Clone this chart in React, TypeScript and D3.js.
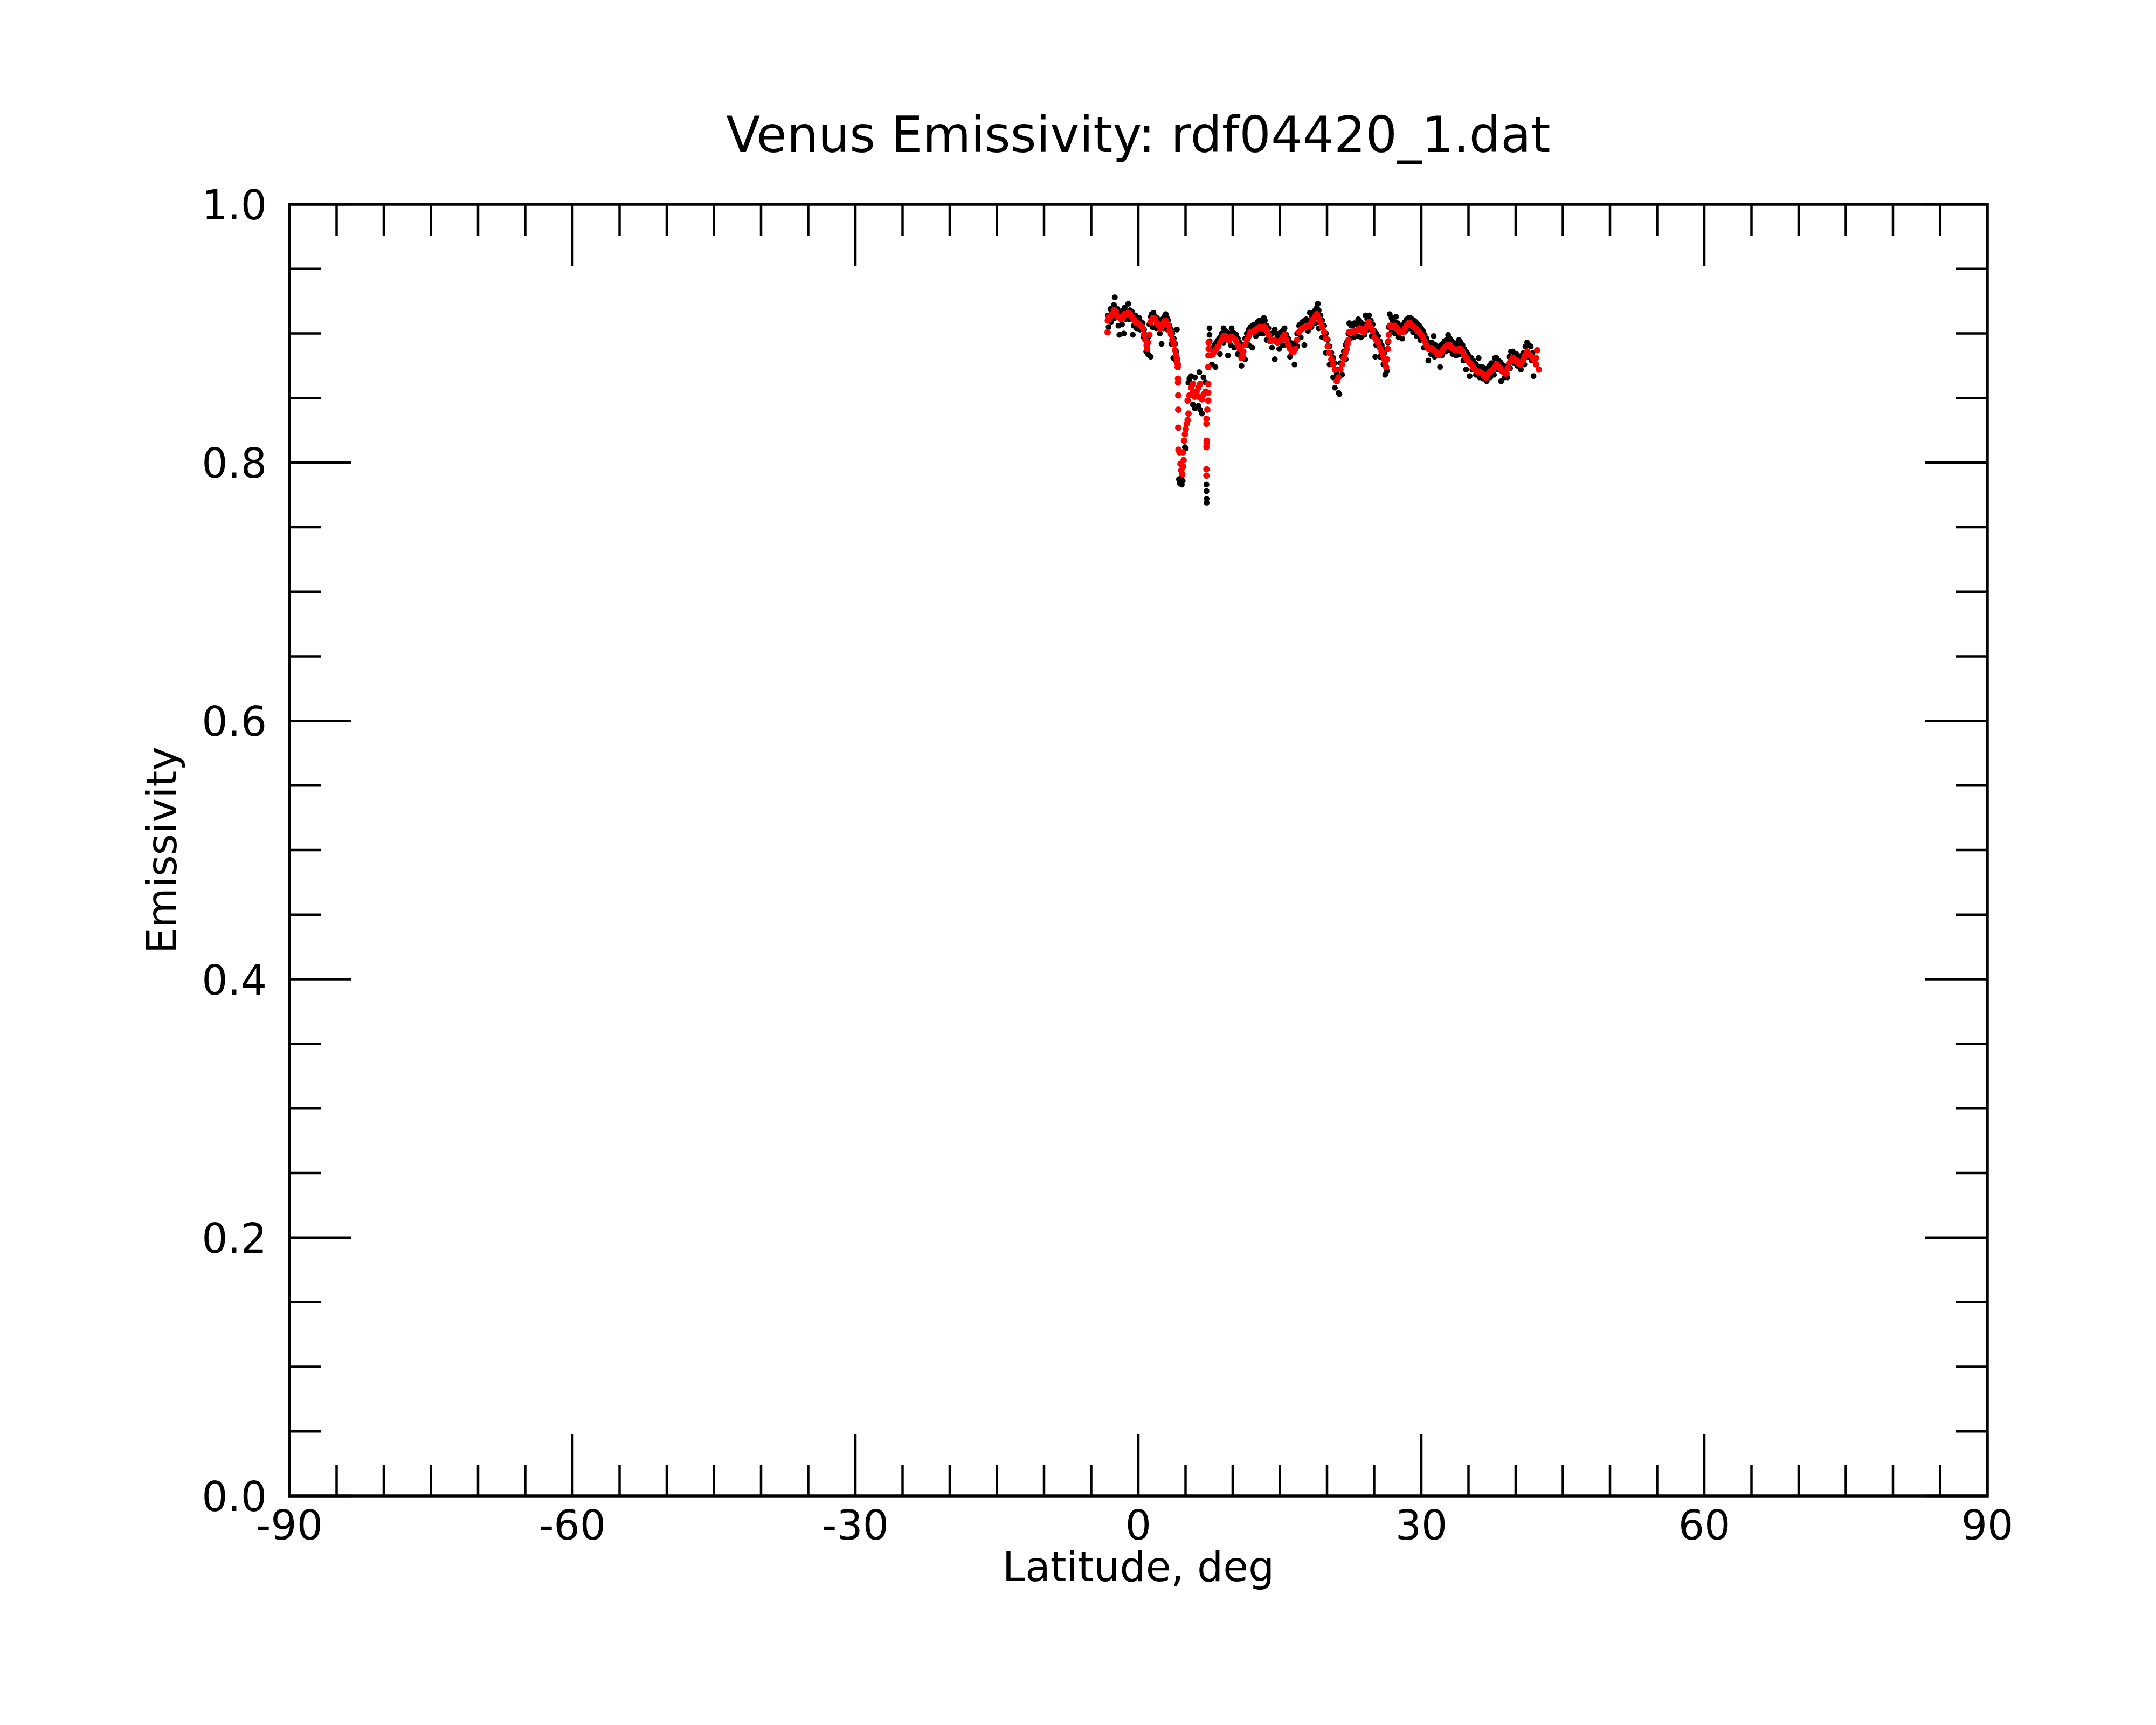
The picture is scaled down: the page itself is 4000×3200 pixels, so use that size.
import { FC } from 'react'
import * as d3 from 'd3'

// latitude (deg), emissivity
const redSouth: [number, number][] = [
  [-3.26, 0.901], [-3.24, 0.910], [-3.12, 0.913], [-2.97, 0.913], [-2.78, 0.915], [-2.59, 0.918],
  [-2.40, 0.917], [-2.21, 0.913], [-2.02, 0.913], [-1.83, 0.911], [-1.64, 0.912], [-1.45, 0.915],
  [-1.26, 0.915], [-1.07, 0.916], [-0.88, 0.915], [-0.69, 0.913], [-0.50, 0.911], [-0.31, 0.909],
  [-0.12, 0.908], [0.08, 0.907], [0.27, 0.906], [0.46, 0.904], [0.60, 0.899], [0.74, 0.895],
  [0.88, 0.891], [0.93, 0.888], [1.03, 0.893], [1.17, 0.899], [1.31, 0.909], [1.45, 0.911],
  [1.60, 0.912], [1.79, 0.911], [1.98, 0.908], [2.17, 0.906], [2.36, 0.904], [2.55, 0.907],
  [2.74, 0.909], [2.90, 0.910], [3.03, 0.908], [3.17, 0.906], [3.31, 0.902], [3.46, 0.899],
  [3.60, 0.895], [3.73, 0.892], [3.89, 0.887], [3.98, 0.883], [4.08, 0.880], [4.13, 0.877],
  [4.17, 0.874]
]

const redDip: [number, number][] = [
  [4.19, 0.876], [4.21, 0.865], [4.21, 0.862], [4.23, 0.852], [4.23, 0.841], [4.23, 0.827],
  [4.25, 0.810], [4.36, 0.808], [4.46, 0.799], [4.55, 0.794], [4.65, 0.791], [4.74, 0.797],
  [4.80, 0.802], [4.74, 0.808], [4.84, 0.817], [4.93, 0.822], [5.03, 0.826], [5.12, 0.830],
  [5.22, 0.833], [5.31, 0.838], [5.22, 0.848], [5.41, 0.852], [5.60, 0.858], [5.79, 0.861],
  [5.79, 0.855], [5.98, 0.851], [6.17, 0.855], [6.36, 0.851], [6.36, 0.858], [6.55, 0.861],
  [6.74, 0.849], [6.93, 0.853], [7.12, 0.855], [7.41, 0.861], [7.41, 0.854], [7.41, 0.848],
  [7.31, 0.841], [7.22, 0.834], [7.22, 0.830], [7.24, 0.817], [7.24, 0.815], [7.22, 0.812],
  [7.22, 0.795], [7.22, 0.790], [7.41, 0.874], [7.43, 0.883], [7.45, 0.888], [7.45, 0.893]
]

const redNorth: [number, number][] = [
  [7.70, 0.883], [7.89, 0.884], [8.08, 0.886], [8.27, 0.888], [8.46, 0.890], [8.65, 0.893],
  [8.84, 0.895], [9.03, 0.898], [9.22, 0.898], [9.41, 0.897], [9.60, 0.895], [9.79, 0.897],
  [9.98, 0.897], [10.17, 0.896], [10.36, 0.894], [10.55, 0.891], [10.74, 0.888], [10.93, 0.881],
  [11.03, 0.883], [11.12, 0.886], [11.31, 0.891], [11.50, 0.895], [11.70, 0.898], [11.89, 0.901],
  [12.08, 0.901], [12.27, 0.902], [12.46, 0.903], [12.65, 0.904], [12.84, 0.905], [13.03, 0.904],
  [13.22, 0.905], [13.41, 0.905], [13.60, 0.902], [13.79, 0.899], [13.98, 0.894], [14.17, 0.895],
  [14.36, 0.895], [14.55, 0.894], [14.74, 0.893], [14.93, 0.894], [15.12, 0.895], [15.31, 0.897],
  [15.50, 0.899], [15.70, 0.895], [15.89, 0.891], [16.08, 0.888], [16.27, 0.886], [16.46, 0.886],
  [16.65, 0.888], [16.84, 0.895], [17.03, 0.901], [17.22, 0.903], [17.41, 0.904], [17.60, 0.905],
  [17.79, 0.905], [17.98, 0.906], [18.17, 0.906], [18.36, 0.909], [18.55, 0.911], [18.74, 0.913],
  [18.93, 0.915], [19.12, 0.912], [19.31, 0.909], [19.50, 0.905], [19.70, 0.901], [19.89, 0.896],
  [20.08, 0.890], [20.27, 0.885], [20.46, 0.880], [20.65, 0.876], [20.84, 0.872], [21.03, 0.863],
  [21.22, 0.866], [21.41, 0.872], [21.60, 0.876], [21.79, 0.881], [21.94, 0.885], [22.08, 0.888],
  [22.18, 0.892], [22.27, 0.895], [22.36, 0.901], [22.55, 0.901], [22.74, 0.901], [22.93, 0.902],
  [23.12, 0.902], [23.31, 0.903], [23.49, 0.904], [23.70, 0.902], [23.89, 0.901], [24.08, 0.904],
  [24.27, 0.906], [24.46, 0.909], [24.65, 0.905], [24.84, 0.902], [25.03, 0.897], [25.22, 0.895],
  [25.41, 0.893], [25.60, 0.889], [25.79, 0.886], [25.94, 0.883], [26.08, 0.880], [26.18, 0.877],
  [26.27, 0.874], [26.36, 0.880], [26.46, 0.888], [26.50, 0.894], [26.55, 0.899], [26.65, 0.906],
  [26.84, 0.906], [26.93, 0.905], [27.12, 0.906], [27.31, 0.905], [27.50, 0.903], [27.70, 0.901],
  [27.89, 0.901], [28.08, 0.901], [28.27, 0.904], [28.46, 0.906], [28.65, 0.908], [28.84, 0.908],
  [29.03, 0.906], [29.22, 0.905], [29.41, 0.904], [29.60, 0.902], [29.79, 0.901], [29.98, 0.899],
  [30.17, 0.897], [30.36, 0.894], [30.55, 0.891], [30.74, 0.888], [30.93, 0.888], [31.12, 0.888],
  [31.31, 0.887], [31.50, 0.886], [31.70, 0.884], [31.89, 0.883], [32.08, 0.885], [32.27, 0.887],
  [32.46, 0.889], [32.65, 0.890], [32.84, 0.891], [33.03, 0.891], [33.22, 0.889], [33.41, 0.888],
  [33.60, 0.887], [33.79, 0.887], [33.98, 0.888], [34.17, 0.888], [34.36, 0.886], [34.55, 0.883],
  [34.74, 0.881], [34.93, 0.879], [35.12, 0.877], [35.31, 0.876], [35.50, 0.874], [35.70, 0.872],
  [35.89, 0.871], [36.08, 0.870], [36.27, 0.870], [36.46, 0.869], [36.65, 0.867], [36.84, 0.866],
  [37.03, 0.868], [37.22, 0.870], [37.41, 0.871], [37.60, 0.872], [37.79, 0.874], [37.98, 0.876],
  [38.17, 0.874], [38.36, 0.873], [38.55, 0.871], [38.74, 0.870], [38.93, 0.869], [39.03, 0.869],
  [39.17, 0.873], [39.31, 0.877], [39.51, 0.879], [39.70, 0.881], [39.89, 0.880], [40.08, 0.879],
  [40.27, 0.877], [40.46, 0.876], [40.65, 0.878], [40.84, 0.880], [41.03, 0.883], [41.22, 0.886],
  [41.41, 0.884], [41.60, 0.883], [41.79, 0.881], [41.98, 0.879], [42.17, 0.881], [42.17, 0.876],
  [42.27, 0.887], [42.46, 0.872]
]

const blackUpper: [number, number][] = [
  [-3.22, 0.914], [-2.97, 0.919], [-2.78, 0.916], [-2.59, 0.922], [-2.50, 0.928], [-2.40, 0.917],
  [-2.21, 0.919], [-2.02, 0.913], [-1.83, 0.916], [-1.64, 0.918], [-1.45, 0.920], [-1.26, 0.917],
  [-1.07, 0.923], [-0.88, 0.918], [-0.69, 0.917], [-0.50, 0.912], [-0.31, 0.914], [-0.12, 0.911],
  [0.08, 0.912], [0.27, 0.909], [0.46, 0.908], [0.60, 0.903], [0.74, 0.899], [0.93, 0.894],
  [1.03, 0.897], [1.17, 0.907], [1.31, 0.913], [1.41, 0.915], [1.60, 0.916], [1.79, 0.913],
  [1.98, 0.912], [2.17, 0.910], [2.36, 0.909], [2.55, 0.911], [2.74, 0.913], [2.90, 0.915],
  [3.03, 0.912], [3.17, 0.910], [3.31, 0.906], [3.46, 0.903], [3.60, 0.900], [3.75, 0.896],
  [3.89, 0.892], [4.08, 0.903], [4.02, 0.886], [4.13, 0.880],
  [7.54, 0.904], [7.54, 0.899], [7.56, 0.894], [7.70, 0.888], [7.89, 0.889], [8.08, 0.891],
  [8.27, 0.893], [8.46, 0.895], [8.65, 0.897], [8.84, 0.900], [9.03, 0.904], [9.22, 0.902],
  [9.41, 0.901], [9.60, 0.900], [9.89, 0.904], [9.98, 0.901], [10.17, 0.900], [10.36, 0.899],
  [10.55, 0.896], [10.74, 0.893], [10.93, 0.887], [11.12, 0.891], [11.31, 0.896], [11.50, 0.900],
  [11.70, 0.903], [11.89, 0.905], [12.08, 0.906], [12.27, 0.907], [12.46, 0.906], [12.65, 0.909],
  [12.84, 0.910], [13.03, 0.908], [13.31, 0.912], [13.41, 0.910], [13.60, 0.906], [13.79, 0.904],
  [13.98, 0.899], [14.17, 0.900], [14.36, 0.901], [14.46, 0.903], [14.74, 0.898], [14.93, 0.900],
  [15.12, 0.901], [15.41, 0.903], [15.50, 0.904], [15.70, 0.899], [15.89, 0.896], [16.08, 0.893],
  [16.27, 0.891], [16.46, 0.892], [16.65, 0.893], [16.84, 0.900], [17.03, 0.906], [17.12, 0.907],
  [17.41, 0.909], [17.60, 0.910], [17.79, 0.911], [17.98, 0.910], [18.17, 0.916], [18.36, 0.914],
  [18.55, 0.916], [18.74, 0.918], [18.93, 0.920], [19.03, 0.923], [19.12, 0.918], [19.31, 0.914],
  [19.50, 0.910], [19.70, 0.906], [19.89, 0.900], [20.08, 0.895], [20.27, 0.890], [20.46, 0.885],
  [20.65, 0.881], [20.84, 0.877], [21.03, 0.869], [21.22, 0.872], [21.41, 0.877], [21.60, 0.882],
  [21.79, 0.886], [21.98, 0.891], [22.08, 0.893], [22.27, 0.900], [22.36, 0.908], [22.55, 0.906],
  [22.74, 0.906], [22.93, 0.908], [23.12, 0.907], [23.31, 0.911], [23.49, 0.909], [23.70, 0.908],
  [23.89, 0.907], [24.08, 0.914], [24.27, 0.911], [24.46, 0.914], [24.65, 0.910], [24.84, 0.907],
  [25.03, 0.902], [25.22, 0.900], [25.41, 0.898], [25.60, 0.894], [25.79, 0.891], [25.98, 0.888],
  [26.08, 0.885], [26.27, 0.880], [26.46, 0.893], [26.55, 0.905], [26.65, 0.915], [26.84, 0.912],
  [26.93, 0.910], [27.12, 0.909], [27.31, 0.913], [27.50, 0.908], [27.70, 0.906], [27.89, 0.905],
  [28.08, 0.907], [28.27, 0.909], [28.46, 0.911], [28.65, 0.912], [28.84, 0.912], [29.03, 0.911],
  [29.22, 0.910], [29.41, 0.909], [29.60, 0.907], [29.79, 0.906], [29.98, 0.904], [30.17, 0.902],
  [30.36, 0.899], [30.55, 0.896], [30.74, 0.893], [30.93, 0.893], [31.12, 0.893], [31.31, 0.898],
  [31.50, 0.891], [31.70, 0.889], [31.89, 0.888], [32.08, 0.891], [32.27, 0.892], [32.46, 0.894],
  [32.65, 0.895], [32.84, 0.899], [33.03, 0.896], [33.22, 0.894], [33.41, 0.893], [33.60, 0.892],
  [33.79, 0.892], [33.98, 0.895], [34.17, 0.893], [34.36, 0.891], [34.55, 0.888], [34.74, 0.886],
  [34.93, 0.884], [35.12, 0.882], [35.31, 0.881], [35.50, 0.879], [35.70, 0.877], [35.89, 0.875],
  [36.08, 0.881], [36.27, 0.874], [36.46, 0.874], [36.65, 0.873], [36.84, 0.871], [37.03, 0.873],
  [37.22, 0.875], [37.41, 0.877], [37.60, 0.877], [37.79, 0.881], [37.98, 0.881], [38.17, 0.879],
  [38.36, 0.878], [38.55, 0.876], [38.74, 0.875], [38.93, 0.874], [39.03, 0.874], [39.31, 0.882],
  [39.51, 0.886], [39.70, 0.886], [39.89, 0.884], [40.08, 0.884], [40.27, 0.882], [40.46, 0.881],
  [40.65, 0.883], [40.84, 0.885], [41.03, 0.890], [41.22, 0.893], [41.41, 0.891], [41.60, 0.890],
  [41.79, 0.885]
]

const blackLower: [number, number][] = [
  [-3.16, 0.905], [-2.88, 0.909], [-2.50, 0.912], [-2.12, 0.906], [-2.02, 0.899], [-1.74, 0.907],
  [-1.54, 0.900], [-1.36, 0.911], [-0.98, 0.911], [-0.59, 0.899], [-0.50, 0.906], [-0.21, 0.904],
  [0.17, 0.903], [0.55, 0.897], [0.84, 0.886], [1.03, 0.884], [1.31, 0.882], [1.50, 0.905],
  [1.88, 0.904], [2.27, 0.900], [2.46, 0.892], [2.64, 0.904], [3.12, 0.903], [3.50, 0.892],
  [3.70, 0.881], [3.98, 0.879],
  [7.79, 0.876], [8.17, 0.874], [8.65, 0.884], [9.03, 0.893], [9.50, 0.883], [9.79, 0.891],
  [10.17, 0.889], [10.55, 0.884], [10.93, 0.875], [11.31, 0.880], [11.70, 0.891], [12.08, 0.889],
  [12.46, 0.898], [12.84, 0.900], [13.22, 0.900], [13.60, 0.895], [14.17, 0.889], [14.46, 0.880],
  [14.93, 0.888], [15.31, 0.891], [15.70, 0.891], [16.08, 0.882], [16.55, 0.876], [16.84, 0.890],
  [17.22, 0.897], [17.60, 0.891], [17.98, 0.902], [18.36, 0.905], [18.74, 0.908], [19.12, 0.904],
  [19.50, 0.897], [19.89, 0.885], [20.27, 0.876], [20.65, 0.866], [20.84, 0.858], [21.22, 0.854],
  [21.31, 0.853], [21.60, 0.868], [21.98, 0.880], [22.46, 0.896], [22.84, 0.897], [23.22, 0.898],
  [23.60, 0.897], [23.98, 0.899], [24.36, 0.903], [24.74, 0.898], [25.12, 0.882], [25.22, 0.891],
  [25.60, 0.882], [25.98, 0.876], [26.17, 0.868], [26.36, 0.871], [26.84, 0.901], [27.22, 0.900],
  [27.60, 0.897], [27.98, 0.896], [28.36, 0.902], [28.74, 0.904], [29.12, 0.901], [29.50, 0.898],
  [29.89, 0.895], [30.27, 0.889], [30.74, 0.879], [31.03, 0.884], [31.41, 0.882], [31.98, 0.874],
  [32.17, 0.883], [32.55, 0.886], [32.93, 0.887], [33.31, 0.884], [33.70, 0.883], [34.08, 0.884],
  [34.46, 0.879], [34.74, 0.872], [35.12, 0.867], [35.41, 0.872], [35.79, 0.868], [36.17, 0.866],
  [36.55, 0.865], [36.93, 0.863], [37.31, 0.866], [37.70, 0.868], [38.08, 0.872], [38.46, 0.863],
  [38.84, 0.866], [39.12, 0.866], [39.41, 0.873], [39.79, 0.877], [40.17, 0.875], [40.55, 0.872],
  [40.93, 0.876], [41.31, 0.882], [41.70, 0.879], [41.89, 0.867]
]

const blackDip: [number, number][] = [
  [4.30, 0.787], [4.40, 0.784], [4.50, 0.788], [4.60, 0.783], [4.70, 0.786], [4.93, 0.812],
  [5.03, 0.811], [5.30, 0.862], [5.41, 0.865], [5.60, 0.867], [6.00, 0.866], [6.46, 0.870],
  [6.90, 0.866], [7.12, 0.862], [5.79, 0.845], [5.98, 0.842], [6.36, 0.844], [6.55, 0.841],
  [6.74, 0.838], [7.22, 0.783], [7.22, 0.778], [7.24, 0.772], [7.24, 0.769]
]

const xMajor = [-90, -60, -30, 0, 30, 60, 90]
const yMajor = [0, 0.2, 0.4, 0.6, 0.8, 1.0]
const yMajorLabels = ['0.0', '0.2', '0.4', '0.6', '0.8', '1.0']

const W = 4000
const H = 3200
const left = 537
const right = 3687
const top = 379
const bottom = 2775
const majorLen = 115
const minorLen = 58
const font = 'DejaVu Sans, Verdana, sans-serif'

const App: FC = () => {
  const x = d3.scaleLinear().domain([-90, 90]).range([left, right])
  const y = d3.scaleLinear().domain([0, 1]).range([bottom, top])

  const xMinor = x.ticks(36).filter(t => !xMajor.includes(t))
  const yMinor = y.ticks(20).filter(t => !yMajor.some(m => Math.abs(m - t) < 1e-9))

  const black = [...blackUpper, ...blackLower, ...blackDip]
  const red = [...redSouth, ...redDip, ...redNorth]

  return (
    <svg width={W} height={H} style={{ position: 'absolute', left: 0, top: 0, background: '#fff' }}>
      <rect x={0} y={0} width={W} height={H} fill="#fff" />
      <text x={(left + right) / 2} y={282} fontFamily={font} fontSize={92} textAnchor="middle">
        Venus Emissivity: rdf04420_1.dat
      </text>

      <g>
        {black.map((d, i) => (
          <circle key={'b' + i} cx={x(d[0])} cy={y(d[1])} r={5.4} fill="#000" />
        ))}
        {red.map((d, i) => (
          <circle key={'r' + i} cx={x(d[0])} cy={y(d[1])} r={6} fill="#ff0000" />
        ))}
      </g>

      <g stroke="#000" strokeWidth={4.5}>
        {xMajor.map(t => (
          <g key={'xM' + t}>
            <line x1={x(t)} x2={x(t)} y1={bottom} y2={bottom - majorLen} />
            <line x1={x(t)} x2={x(t)} y1={top} y2={top + majorLen} />
          </g>
        ))}
        {xMinor.map(t => (
          <g key={'xm' + t}>
            <line x1={x(t)} x2={x(t)} y1={bottom} y2={bottom - minorLen} />
            <line x1={x(t)} x2={x(t)} y1={top} y2={top + minorLen} />
          </g>
        ))}
        {yMajor.map(t => (
          <g key={'yM' + t}>
            <line x1={left} x2={left + majorLen} y1={y(t)} y2={y(t)} />
            <line x1={right} x2={right - majorLen} y1={y(t)} y2={y(t)} />
          </g>
        ))}
        {yMinor.map(t => (
          <g key={'ym' + t}>
            <line x1={left} x2={left + minorLen} y1={y(t)} y2={y(t)} />
            <line x1={right} x2={right - minorLen} y1={y(t)} y2={y(t)} />
          </g>
        ))}
      </g>
      <rect x={left} y={top} width={right - left} height={bottom - top} fill="none" stroke="#000" strokeWidth={5.5} />

      <g fontFamily={font} fontSize={76} fill="#000">
        {xMajor.map(t => (
          <text key={'xl' + t} x={x(t)} y={2856} textAnchor="middle">{t}</text>
        ))}
        {yMajor.map((t, i) => (
          <text key={'yl' + t} x={495} y={y(t) + 28} textAnchor="end">{yMajorLabels[i]}</text>
        ))}
        <text x={(left + right) / 2} y={2933} textAnchor="middle">Latitude, deg</text>
        <text transform={`translate(327,${(top + bottom) / 2}) rotate(-90)`} textAnchor="middle">Emissivity</text>
      </g>
    </svg>
  )
}

export default App
